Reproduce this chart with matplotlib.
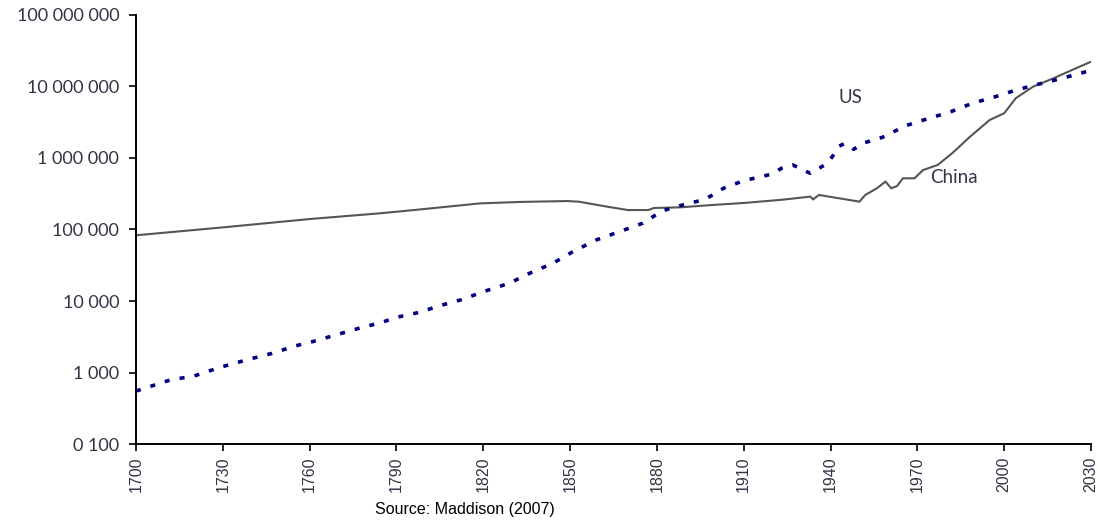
import matplotlib
matplotlib.use('Agg')
import matplotlib.pyplot as plt
from matplotlib.ticker import FixedLocator, NullLocator

# US GDP (dotted line)
us_years = [1700, 1712, 1720, 1729, 1739, 1747, 1755, 1761, 1767, 1777, 1785, 1790,
            1798, 1805, 1813, 1820, 1829, 1836, 1844, 1851, 1859, 1867, 1875, 1882,
            1890, 1896, 1900, 1903, 1910, 1917, 1920, 1923, 1927, 1933, 1939, 1941,
            1943, 1945, 1948, 1951, 1958, 1966, 1974, 1981, 1989, 1997, 2004, 2012,
            2020, 2030]
us_values = [550, 790, 890, 1180, 1530, 1850, 2350, 2700, 3170, 4150, 5040, 5900,
             6950, 8600, 10570, 13500, 17700, 24400, 33600, 49000, 71300, 93000, 122000, 183000,
             227000, 259000, 314000, 377000, 482000, 560000, 600000, 717000, 798000, 611000, 843000, 1100000,
             1470000, 1600000, 1320000, 1600000, 1950000, 2830000, 3590000, 4350000, 5820000, 7200000, 8900000, 10800000,
             13000000, 16800000]

# China GDP (solid line)
china_years = [1700, 1730, 1760, 1784, 1796, 1819, 1833, 1849, 1853, 1863, 1870, 1877,
               1879, 1888, 1899, 1910, 1923, 1933, 1934, 1936, 1943, 1950, 1952, 1956,
               1959, 1961, 1963, 1965, 1969, 1972, 1977, 1982, 1988, 1995, 2000, 2004,
               2010, 2017, 2024, 2030]
china_values = [83000, 107000, 140000, 168000, 187000, 232000, 243000, 250000, 245000, 208000, 187000, 187000,
                200000, 204000, 220000, 235000, 260000, 288000, 264000, 304000, 273000, 245000, 304000, 377000,
                467000, 377000, 405000, 520000, 520000, 679000, 798000, 1160000, 1950000, 3400000, 4220000, 6840000,
                9950000, 13000000, 17400000, 22200000]

x_ticks = list(range(1700, 2031, 30))
y_ticks = [1e2, 1e3, 1e4, 1e5, 1e6, 1e7, 1e8]
y_labels = ['0 100', '1 000', '10 000', '100 000', '1 000 000', '10 000 000', '100 000 000']

fig = plt.figure(figsize=(10.99, 5.22), dpi=100)
ax = fig.add_axes([0.1237, 0.1494, 0.869, 0.8219])

ax.plot(china_years, china_values, color='#555555', lw=1.5, solid_joinstyle='miter')
ax.plot(us_years, us_values, color='#000080', lw=2.6, ls=(0, (1.4, 2.8)))

ax.set_yscale('log')
ax.set_ylim(1e2, 1e8)
ax.set_xlim(1700, 2030)

ax.yaxis.set_major_locator(FixedLocator(y_ticks))
ax.yaxis.set_minor_locator(NullLocator())
ax.set_yticklabels(y_labels, fontsize=13, color='#333344', family='Lato')
ax.set_xticks(x_ticks)
ax.set_xticklabels([str(t) for t in x_ticks], rotation=90, fontsize=11.5,
                   color='#333344', family='Liberation Sans')

for side in ['top', 'right']:
    ax.spines[side].set_visible(False)
for side in ['left', 'bottom']:
    ax.spines[side].set_linewidth(1.4)
ax.tick_params(axis='both', direction='out', length=5, width=1.2)
ax.tick_params(axis='y', pad=7)
ax.tick_params(axis='x', pad=4)

ax.text(1942.6, 7.1e6, 'US', fontsize=13.5, color='#333344', family='Lato', va='center')
ax.text(1974.4, 5.3e5, 'China', fontsize=13.5, color='#333344', family='Lato', va='center')

fig.text(0.423, 0.016, 'Source: Maddison (2007)', fontsize=11.5, family='Liberation Sans',
         ha='center', va='baseline', color='black')

fig.savefig('out.png', dpi=100)
